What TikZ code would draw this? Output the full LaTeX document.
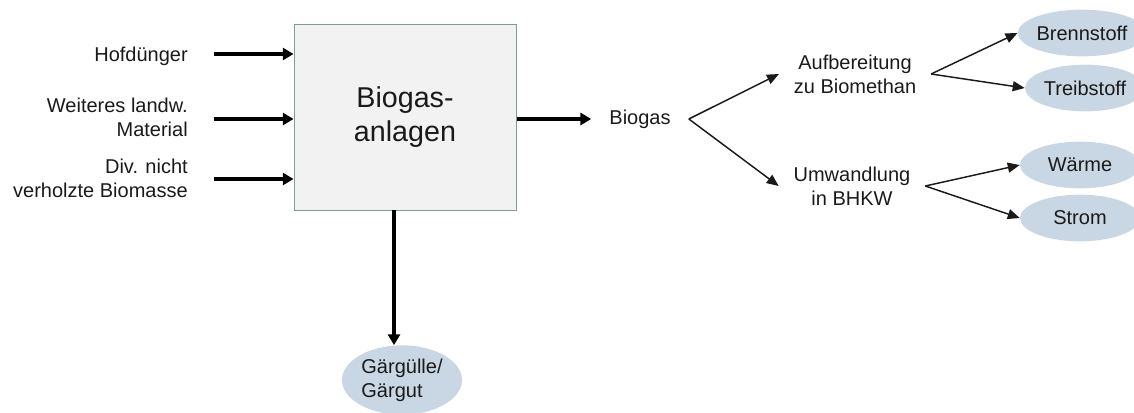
\documentclass[tikz,border=0pt]{standalone}
\usepackage{fontspec}
\setmainfont{Liberation Sans}
\usetikzlibrary{arrows.meta,positioning,shapes.geometric}
\definecolor{plant}{HTML}{F2F2F2}
\definecolor{plantline}{HTML}{7F9F8A}
\definecolor{product}{HTML}{C9D7E4}
\definecolor{ink}{HTML}{1A1A1A}

\begin{document}
\begin{tikzpicture}[x=0.75pt, y=-0.75pt, >={Triangle[length=9pt,width=7.5pt]},
  feedlabel/.style={font=\fontsize{15}{18}\selectfont, text=ink, align=right, anchor=east, inner sep=0pt},
  stage/.style={font=\fontsize{15}{18}\selectfont, text=ink, align=center, inner xsep=11pt, inner ysep=0pt},
  prod/.style={ellipse, fill=product, minimum width=90pt, minimum height=35pt, inner sep=0pt, font=\fontsize{15}{18}\selectfont, text=ink},
  feed/.style={-{Triangle[length=8pt,width=9pt]}, line width=2.5pt, black},
  flow/.style={->, line width=1.1pt, ink}]
\useasboundingbox (0,0) rectangle (1134,412);
% plant
\node[draw=plantline, line width=0.75pt, fill=plant, minimum width=166.5pt, minimum height=139.5pt,
  font=\fontsize{21.5}{26}\selectfont, text=ink, align=center] (plant) at (405,117) {Biogas-\\anlagen};
% inputs
\node[feedlabel] (hof) at (188,56) {Hofdünger};
\node[feedlabel] (mat) at (188,117) {Weiteres landw.\\Material};
\node[feedlabel] (div) at (188,178) {Div. nicht\\verholzte Biomasse};
\foreach \y/\n in {54/1,119/2,179/3} {
  \coordinate (in\n) at (214,\y);
  \draw[feed] (in\n) -- (plant.west |- in\n);
}
% biogas and its use
\node[stage, inner xsep=13.5pt] (biogas) at (640,119) {Biogas};
\draw[feed] (plant.east |- biogas) -- (biogas.west);
\node[stage] (auf) at (855,74) {Aufbereitung\\zu Biomethan};
\node[stage] (umw) at (852,186) {Umwandlung\\in BHKW};
\draw[flow] (biogas.east) -- (auf.west);
\draw[flow] (biogas.east) -- (umw.west);
% products
\node[prod] (brenn) at (1082,33) {Brennstoff};
\node[prod] (treib) at (1085,88) {Treibstoff};
\node[prod] (waerme) at (1080,165) {Wärme};
\node[prod] (strom) at (1080,218) {Strom};
\foreach \a/\b in {auf/brenn, auf/treib, umw/waerme, umw/strom}
  \draw[flow] (\a.east) -- (\b.west);
% digestate
\node[prod, minimum height=52pt, align=left] (gaer) at (402,380) {Gärgülle/\\Gärgut};
\coordinate (out) at (394,210);
\draw[feed] (out) -- (out |- gaer.north);
\end{tikzpicture}
\end{document}
